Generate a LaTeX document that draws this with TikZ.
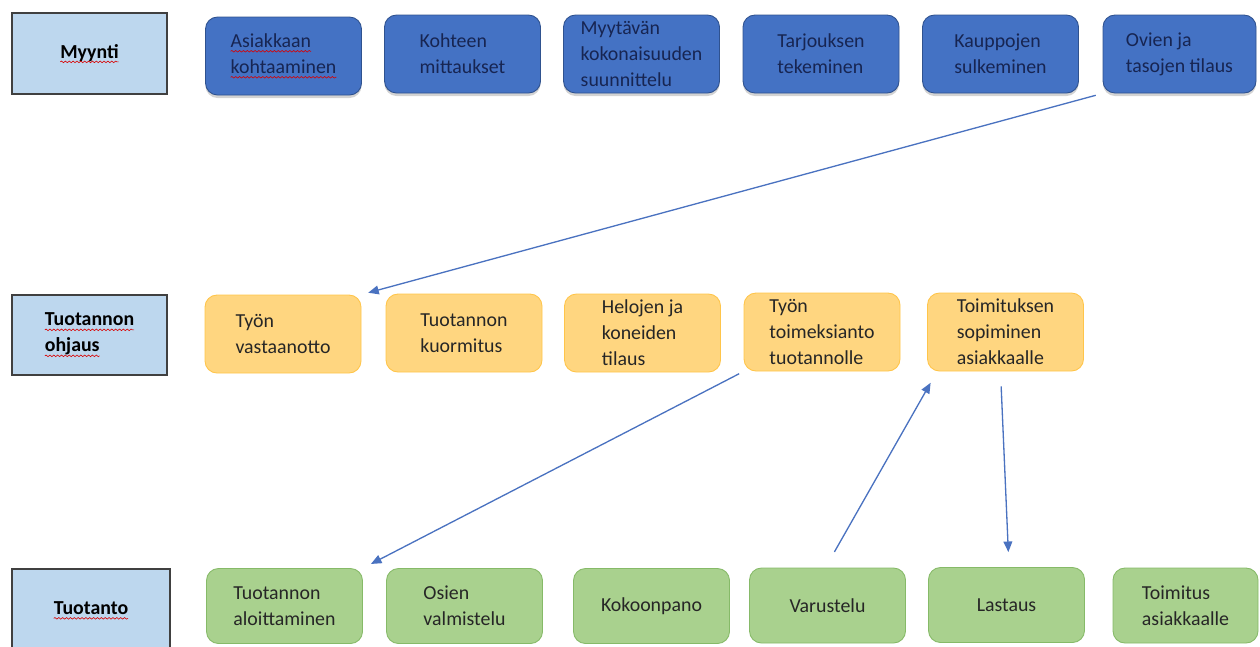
\documentclass[tikz,border=0pt]{standalone}
\usepackage{fontspec}
\setmainfont{Carlito}
\usepackage{tikz}
\usetikzlibrary{arrows.meta, shadows, decorations.pathmorphing}

\definecolor{laneblue}{HTML}{BDD7EE}
\definecolor{laneline}{HTML}{404040}
\definecolor{salesfill}{HTML}{4472C4}
\definecolor{salesline}{HTML}{2F528F}
\definecolor{salestext}{HTML}{172552}
\definecolor{planfill}{HTML}{FFD680}
\definecolor{planline}{HTML}{FFC54A}
\definecolor{prodfill}{HTML}{A9D18E}
\definecolor{prodline}{HTML}{86BA68}
\definecolor{flowblue}{HTML}{4A72C0}

% red wavy spell-check line under a word
\newcommand{\spellerr}[1]{\tikz[baseline=(w.base), sharp corners]{%
		\node[shape=rectangle, inner sep=0pt, outer sep=0pt, minimum width=0pt, minimum height=0pt] (w) {#1};
		\draw[red!85!black, line width=0.35pt, decorate, decoration={snake, amplitude=0.45pt, segment length=2.2pt}]
			([yshift=-2.2pt]w.base west) -- ([yshift=-2.2pt]w.base east);}}

\tikzset{
		every node/.style={font=\fontsize{11.3}{14.8}\selectfont},
		lane/.style={draw=laneline, line width=0.9pt, fill=laneblue, align=left,
			minimum width=3.1cm, minimum height=1.62cm, inner sep=2pt, font=\fontsize{11.3}{14.8}\selectfont\bfseries},
		task/.style={rounded corners=0.24cm, align=left, inner sep=2pt,
			minimum width=3.12cm, minimum height=1.56cm},
		sales/.style={task, draw=salesline, line width=0.5pt, fill=salesfill, text=salestext,
			drop shadow={shadow xshift=0pt, shadow yshift=-0.06cm, opacity=0.35}},
		plan/.style={task, draw=planline, line width=0.5pt, fill=planfill, text=black!85},
		prod/.style={task, draw=prodline, line width=0.5pt, fill=prodfill, text=black!85, minimum height=1.5cm},
		flow/.style={->, draw=flowblue, line width=0.75pt}
	}

\begin{document}
\begin{tikzpicture}[>={Triangle[length=6pt,width=5pt]}]
				\useasboundingbox (0,0) rectangle (25.2,-12.92);

				% Myynti
				\node[lane]  (myynti) at (1.79,-1.07)  {\spellerr{Myynti}};
				\node[sales] (a1)     at (5.67,-1.12)  {\spellerr{Asiakkaan}\\\spellerr{kohtaaminen}};
				\node[sales] (a2)     at (9.25,-1.08)  {Kohteen\\mittaukset};
				\node[sales] (a3)     at (12.83,-1.08) {Myytävän\\kokonaisuuden\\suunnittelu};
				\node[sales] (a4)     at (16.42,-1.08) {Tarjouksen\\tekeminen};
				\node[sales] (a5)     at (20.01,-1.08) {Kauppojen\\sulkeminen};
				\node[sales, minimum width=3.06cm] (a6) at (23.59,-1.08) {Ovien ja\\tasojen tilaus};

				% Tuotannon ohjaus
				\node[lane, minimum height=1.6cm] (ohjaus) at (1.79,-6.70) {\spellerr{Tuotannon}\\\spellerr{ohjaus}};
				\node[plan]  (b1)     at (5.66,-6.68)  {Työn\\vastaanotto};
				\node[plan]  (b2)     at (9.28,-6.66)  {Tuotannon\\kuormitus};
				\node[plan]  (b3)     at (12.85,-6.66) {Helojen ja\\koneiden\\tilaus};
				\node[plan]  (b4)     at (16.44,-6.64) {Työn\\toimeksianto\\tuotannolle};
				\node[plan]  (b5)     at (20.11,-6.64) {Toimituksen\\sopiminen\\asiakkaalle};

				% Tuotanto (runs off the bottom edge)
				\node[lane, minimum width=3.16cm, minimum height=1.66cm] (tuotanto) at (1.82,-12.21) {\spellerr{Tuotanto}};
				\node[prod]  (c1)     at (5.69,-12.12)  {Tuotannon\\aloittaminen};
				\node[prod]  (c2)     at (9.29,-12.12)  {Osien\\valmistelu};
				\node[prod]  (c3)     at (13.03,-12.12) {Kokoonpano};
				\node[prod]  (c4)     at (16.55,-12.11) {Varustelu};
				\node[prod]  (c5)     at (20.13,-12.10) {Lastaus};
				\node[prod, minimum width=2.9cm] (c6) at (23.71,-12.11) {Toimitus\\asiakkaalle};

				\draw[flow, shorten <=0.14cm, shorten >=0.14cm] (a6.south west) -- (b1.north east);
				\draw[flow, shorten <=0.1cm, shorten >=0.18cm] (b4.south west) -- (c1.north east);
				\draw[flow, shorten <=0.36cm, shorten >=0.26cm] ([xshift=-0.04cm]c4.north) -- ([xshift=0.2cm]b5.south west);
				\draw[flow, shorten <=0.3cm, shorten >=0.3cm] ([xshift=-0.1cm]b5.south) -- ([xshift=0.05cm]c5.north);
			\end{tikzpicture}
\end{document}
